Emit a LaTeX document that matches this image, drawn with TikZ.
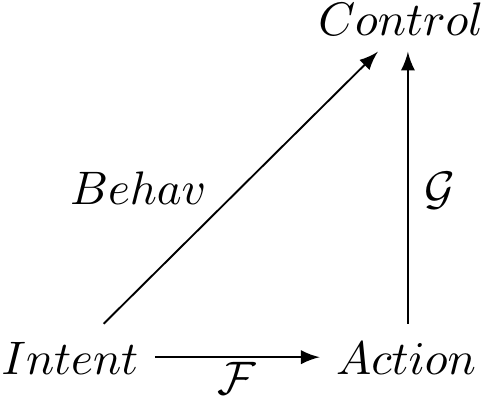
\documentclass[tikz,border=0pt]{standalone}
\usepackage{tikz}
\usetikzlibrary{arrows}
\tikzstyle{obj}=[inner sep=3.3pt, text height=7.2pt, text depth=0pt, anchor=base]
\tikzstyle{annot}=[anchor=base, inner sep=0pt]
\tikzstyle{map}=[-latex, thin]

\begin{document}
\begin{tikzpicture}[x=1pt, y=1pt]
	\useasboundingbox (0,0) rectangle (104.9,86.2);

	\node[obj](intent) at (14.9,6.6){$Intent$};
	\node[obj](action) at (86.4,6.6){$Action$};
	\node[obj](control) at (85.3,78.7){$Control$};

	\draw[map] (intent) -- (action.west |- intent.east);
	\draw[map] (intent) -- ([xshift=-4.9pt]control.south);
	\draw[map] ([xshift=0.4pt]action.north) -- ([xshift=0.4pt]action.north |- control.south);

	\node[annot](behav) at (29.4,42.6){$Behav$};
	\node[annot](glabel) at (93.6,42.6){$\mathcal{G}$};
	\node[annot](flabel) at (50.4,2.3){$\mathcal{F}$};
\end{tikzpicture}
\end{document}
